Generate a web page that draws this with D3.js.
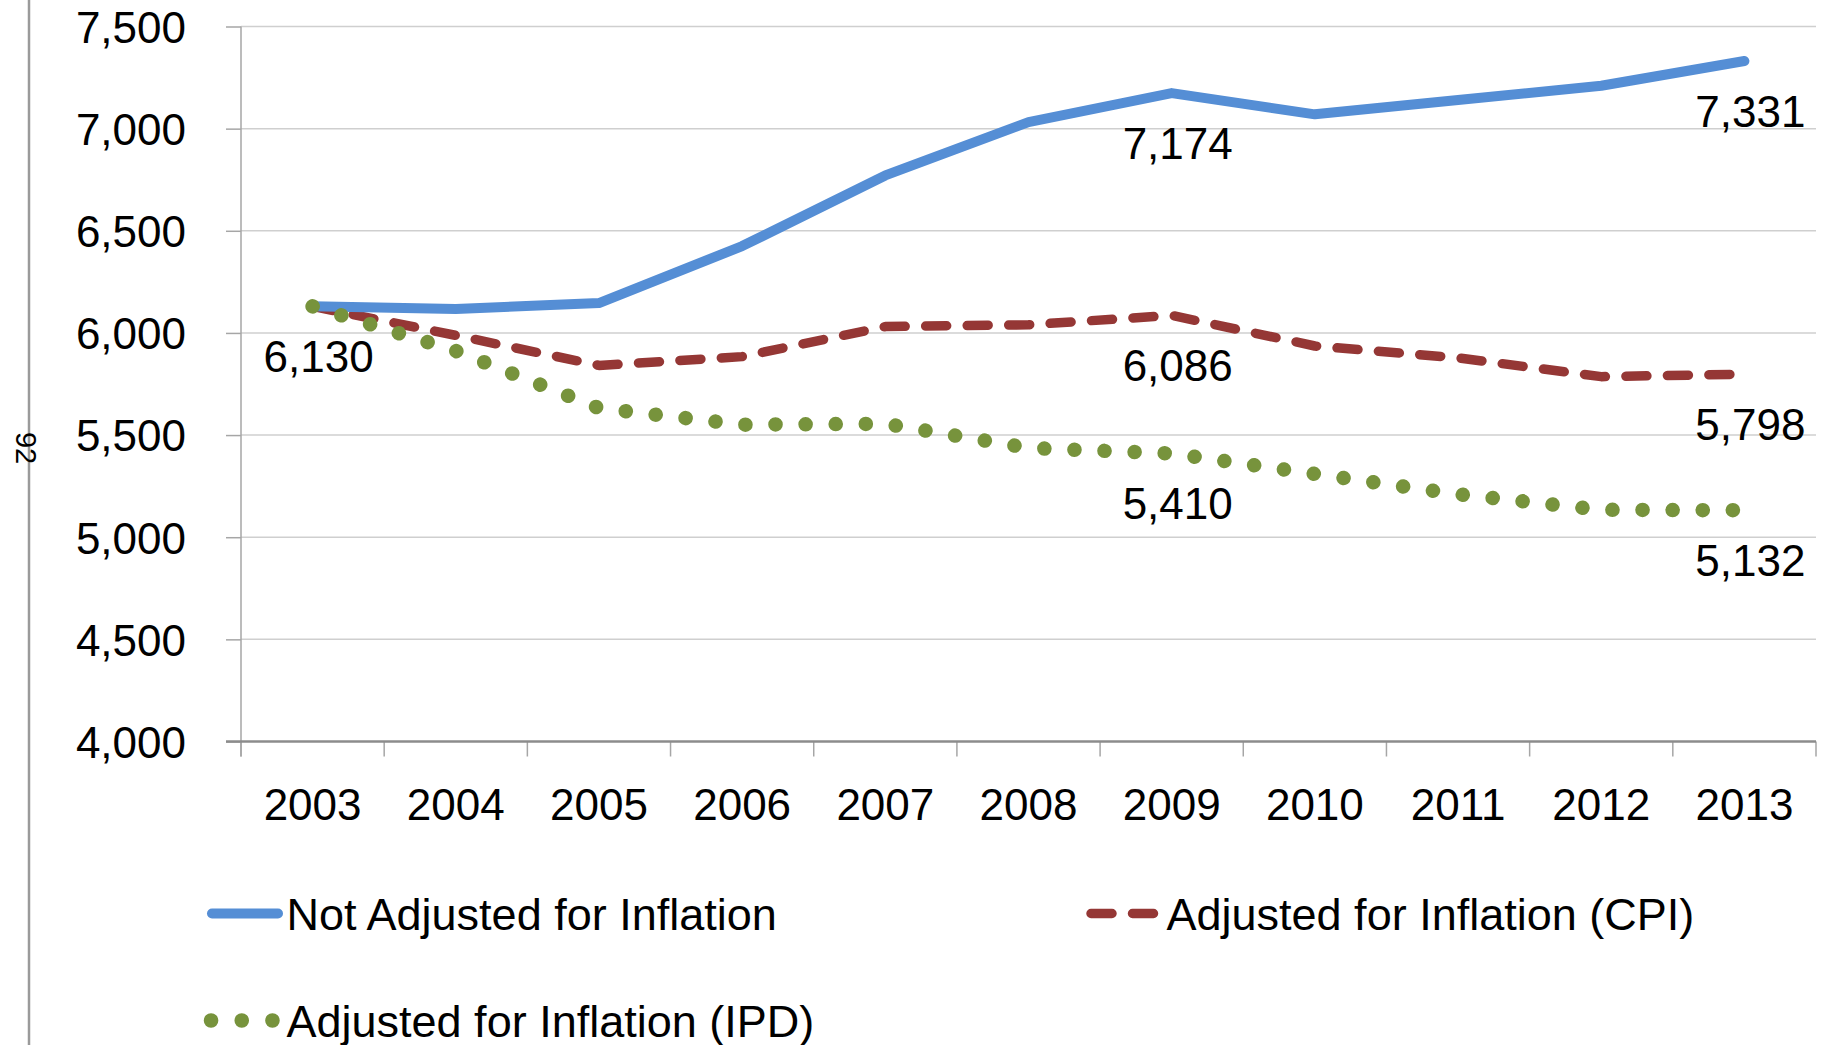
<!DOCTYPE html>
<html>
<head>
<meta charset="utf-8">
<script src="https://cdn.jsdelivr.net/npm/d3@7"></script>
<style>
  html, body { margin: 0; padding: 0; background: #fff; }
  svg { display: block; }
  text { font-family: "Liberation Sans", Arial, sans-serif; fill: #000; }
</style>
</head>
<body>
<svg id="chart" width="1825" height="1045"></svg>
<script>
// ---- data ----
const years = ["2003","2004","2005","2006","2007","2008","2009","2010","2011","2012","2013"];
const notAdjusted = [6130, 6117, 6146, 6425, 6771, 7032, 7174, 7070, 7140, 7210, 7331];
const cpiAdjusted = [6130, 5988, 5841, 5884, 6031, 6040, 6086, 5936, 5878, 5786, 5798];
const ipdAdjusted = [6130, 5912, 5632, 5551, 5555, 5437, 5410, 5310, 5210, 5134, 5132];
const yTicks = [4000, 4500, 5000, 5500, 6000, 6500, 7000, 7500];
const seriesNames = ["Not Adjusted for Inflation", "Adjusted for Inflation (CPI)", "Adjusted for Inflation (IPD)"];
const labelIdxNot = [0, 6, 10];
const labelIdxCpi = [6, 10];
const labelIdxIpd = [6, 10];
const pageNumber = "92";

// ---- layout ----
const svg = d3.select("#chart");
const pL = 241, pR = 1816, pT = 26.5, pB = 741.5;
const x = d3.scaleBand().domain(years).range([pL, pR]).paddingInner(0).paddingOuter(0);
const xc = d => x(d) + x.bandwidth() / 2;
const y = d3.scaleLinear().domain([4000, 7500]).range([pB, pT]);

// left page border and page number
svg.append("line").attr("x1", 29).attr("x2", 29).attr("y1", 0).attr("y2", 1045)
  .attr("stroke", "#9a9a9a").attr("stroke-width", 2.5);
svg.append("text").attr("transform", "translate(16,448) rotate(90)")
  .attr("text-anchor", "middle").attr("font-size", 29).text(pageNumber);

// gridlines
svg.append("g").selectAll("line").data(yTicks.filter(t => t > 4000)).join("line")
  .attr("x1", pL).attr("x2", pR)
  .attr("y1", d => y(d)).attr("y2", d => y(d))
  .attr("stroke", "#cfcfcf").attr("stroke-width", 1.5);

// y axis
const yAxis = d3.axisLeft(y).tickValues(yTicks).tickSize(15).tickPadding(40)
  .tickFormat(d3.format(","));
const gy = svg.append("g").attr("transform", `translate(${pL},0)`).call(yAxis);
gy.select(".domain").remove();
gy.selectAll(".tick line").attr("stroke", "#a6a6a6").attr("stroke-width", 1.5);
gy.selectAll(".tick text").attr("font-size", 44).attr("font-family", "Liberation Sans, Arial, sans-serif")
  .attr("fill", "#000").attr("dy", "0.36em");
svg.append("line").attr("x1", pL).attr("x2", pL).attr("y1", pT).attr("y2", pB + 15)
  .attr("stroke", "#a6a6a6").attr("stroke-width", 1.5);

// x axis
const gx = svg.append("g").attr("transform", `translate(0,${pB})`)
  .call(d3.axisBottom(x).tickSize(0).tickPadding(47));
gx.select(".domain").remove();
gx.selectAll(".tick text").attr("font-size", 44).attr("font-family", "Liberation Sans, Arial, sans-serif")
  .attr("fill", "#000").attr("dy", "0.71em");
const bounds = years.map(d => x(d)).concat([pR]);
svg.append("g").selectAll("line").data(bounds).join("line")
  .attr("x1", d => d).attr("x2", d => d).attr("y1", pB).attr("y2", pB + 15)
  .attr("stroke", "#a6a6a6").attr("stroke-width", 1.5);
svg.append("line").attr("x1", pL - 15).attr("x2", pR).attr("y1", pB).attr("y2", pB)
  .attr("stroke", "#8c8c8c").attr("stroke-width", 2.5);

// series
const line = d3.line().x((d, i) => xc(years[i])).y(d => y(d));
const styles = [
  { data: notAdjusted, color: "#558ED5", width: 10, dash: null, labels: labelIdxNot },
  { data: cpiAdjusted, color: "#953735", width: 9.5, dash: "21,20.5", labels: labelIdxCpi },
  { data: ipdAdjusted, color: "#77933C", width: 14.5, dash: "0.1,30", labels: labelIdxIpd }
];
[styles[1], styles[0], styles[2]].forEach(s => {
  svg.append("path").datum(s.data).attr("d", line)
    .attr("fill", "none").attr("stroke", s.color).attr("stroke-width", s.width)
    .attr("stroke-linecap", "round").attr("stroke-linejoin", "round")
    .attr("stroke-dasharray", s.dash);
});

// data labels
styles.forEach(s => {
  svg.append("g").selectAll("text").data(s.labels).join("text")
    .attr("x", i => xc(years[i]) + 6)
    .attr("y", i => y(s.data[i]) + 66)
    .attr("text-anchor", "middle").attr("font-size", 44)
    .text(i => d3.format(",")(s.data[i]));
});

// legend
const legend = [
  { name: seriesNames[0], s: styles[0], x0: 212, x1: 278, tx: 286.5, ty: 913.5 },
  { name: seriesNames[1], s: styles[1], x0: 1091, x1: 1157.5, tx: 1166.5, ty: 913.5 },
  { name: seriesNames[2], s: styles[2], x0: 211, x1: 273, tx: 286.5, ty: 1020.5 }
];
legend.forEach(l => {
  const g = svg.append("g");
  g.append("line").attr("x1", l.x0).attr("x2", l.x1)
    .attr("y1", l.ty).attr("y2", l.ty)
    .attr("stroke", l.s.color).attr("stroke-width", l.s.width)
    .attr("stroke-linecap", "round")
    .attr("stroke-dasharray", l.s.dash === "0.1,30" ? "0.1,30.6" : l.s.dash);
  g.append("text").attr("x", l.tx).attr("y", l.ty + 16)
    .attr("font-size", 45).text(l.name);
});
</script>
</body>
</html>
